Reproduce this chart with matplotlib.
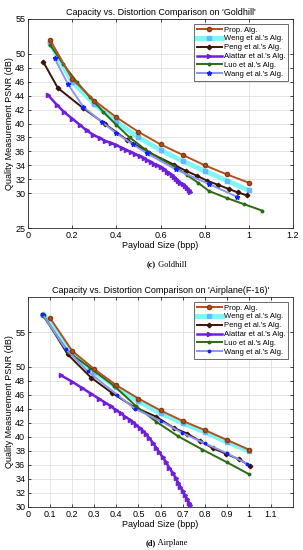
import matplotlib
matplotlib.use("Agg")
import matplotlib.pyplot as plt

plt.rcParams['font.family'] = ['Liberation Sans', 'DejaVu Sans']

# ---------------- Goldhill ----------------
g_prop_x = [0.10, 0.20, 0.30, 0.40, 0.50, 0.60, 0.70, 0.80, 0.90, 1.00]
g_prop_y = [52.0, 46.4, 43.3, 40.9, 38.8, 37.0, 35.5, 34.0, 32.7, 31.5]

g_weng_x = [0.10, 0.20, 0.30, 0.40, 0.50, 0.60, 0.70, 0.80, 0.90, 1.00]
g_weng_y = [51.5, 46.0, 42.8, 40.2, 38.0, 36.2, 34.6, 33.2, 31.8, 30.4]

g_peng_x = [0.07, 0.135, 0.25, 0.35, 0.45, 0.55, 0.66, 0.715, 0.765, 0.81, 0.86, 0.91, 0.95, 0.99]
g_peng_y = [48.8, 45.1, 42.2, 39.9, 37.6, 35.8, 34.1, 33.2, 32.5, 31.8, 31.2, 30.6, 30.1, 29.7]

g_alat_x = [0.09, 0.13, 0.165, 0.20, 0.235, 0.265, 0.295, 0.325, 0.35, 0.375, 0.40, 0.425,
            0.445, 0.465, 0.485, 0.505, 0.525, 0.54, 0.555, 0.57, 0.585, 0.60, 0.615, 0.63,
            0.64, 0.65, 0.66, 0.67, 0.68, 0.69, 0.70, 0.71, 0.72, 0.73, 0.735]
g_alat_y = [44.1, 42.7, 41.6, 40.7, 39.8, 39.0, 38.4, 37.9, 37.5, 37.2, 36.9, 36.5,
            36.2, 35.9, 35.6, 35.3, 35.0, 34.7, 34.5, 34.2, 34.0, 33.7, 33.4, 33.1,
            32.9, 32.6, 32.3, 32.1, 31.8, 31.5, 31.3, 31.0, 30.7, 30.4, 30.2]

g_luo_x = [0.10, 0.16, 0.22, 0.28, 0.34, 0.40, 0.46, 0.53, 0.60, 0.66, 0.72, 0.77, 0.82, 0.90, 0.98, 1.06]
g_luo_y = [51.3, 48.5, 46.0, 43.8, 41.7, 39.8, 38.0, 36.3, 34.9, 33.9, 32.6, 31.5, 30.3, 29.3, 28.4, 27.5]

g_wang_x = [0.12, 0.18, 0.25, 0.335, 0.40, 0.475, 0.54, 0.67, 0.82, 0.945]
g_wang_y = [49.4, 45.7, 42.4, 40.2, 38.6, 37.0, 35.7, 33.4, 31.3, 29.5]

# ---------------- Airplane ----------------
a_prop_x = [0.10, 0.20, 0.30, 0.40, 0.50, 0.60, 0.70, 0.80, 0.90, 1.00]
a_prop_y = [57.0, 52.3, 49.7, 47.4, 45.5, 43.8, 42.3, 41.0, 39.6, 38.2]

a_weng_x = [0.07, 0.20, 0.30, 0.40, 0.50, 0.60, 0.70, 0.80, 0.90, 1.00]
a_weng_y = [57.5, 52.0, 49.3, 47.1, 45.1, 43.4, 42.0, 40.7, 39.3, 38.0]

a_peng_x = [0.068, 0.18, 0.285, 0.38, 0.48, 0.58, 0.66, 0.72, 0.78, 0.837, 0.897, 0.956, 1.005]
a_peng_y = [57.5, 51.8, 48.5, 46.3, 44.3, 42.9, 41.3, 40.5, 39.4, 38.4, 37.6, 36.8, 35.9]

a_alat_x = [0.15, 0.20, 0.245, 0.285, 0.32, 0.35, 0.375, 0.40, 0.42, 0.44, 0.46, 0.475,
            0.49, 0.505, 0.52, 0.535, 0.55, 0.565, 0.58, 0.595, 0.61, 0.625, 0.64, 0.655,
            0.67, 0.68, 0.69, 0.70, 0.71, 0.72, 0.73, 0.735]
a_alat_y = [48.8, 47.9, 47.0, 46.2, 45.5, 44.9, 44.4, 43.8, 43.4, 42.9, 42.5, 42.1,
            41.7, 41.3, 40.9, 40.4, 39.8, 39.2, 38.5, 37.8, 37.1, 36.4, 35.6, 34.9,
            34.1, 33.5, 32.9, 32.3, 31.7, 31.2, 30.6, 30.3]

a_luo_x = [0.065, 0.18, 0.28, 0.39, 0.49, 0.58, 0.68, 0.79, 0.90, 1.00]
a_luo_y = [57.5, 52.2, 49.9, 47.3, 44.4, 42.2, 40.1, 38.2, 36.4, 34.7]

a_wang_x = [0.065, 0.17, 0.27, 0.405, 0.486, 0.60, 0.697, 0.80, 0.90, 0.99]
a_wang_y = [57.6, 52.6, 49.4, 46.0, 44.0, 42.3, 40.6, 39.1, 37.7, 36.2]

labels = ['Prop. Alg.', "Weng et al.'s Alg.", "Peng et al.'s Alg.",
          "Alattar et al.'s Alg.", "Luo et al.'s Alg.", "Wang et al.'s Alg."]

yticks = [30, 32, 34, 36, 38, 40, 42, 44, 46, 48, 50, 55]


def dibujar(ax, datos, wang_marker, titulo, xticks, ylim, yt):
    (px, py), (wx, wy), (pgx, pgy), (ax_, ay_), (lx, ly), (wgx, wgy) = datos
    ax.plot(px, py, '-o', color='#b5501e', mfc='#b5501e', mec='#8a3a10', lw=1.4, ms=3, label=labels[0], zorder=6)
    ax.plot(wx, wy, '-s', color='#7ff5f5', mfc='#66b8ff', mec='#66b8ff', lw=3.5, ms=2.5, label=labels[1], zorder=3)
    ax.plot(pgx, pgy, '-D', color='#3b1408', mfc='#3b1408', mec='#3b1408', lw=1.4, ms=2.3, label=labels[2], zorder=5)
    ax.plot(ax_, ay_, '->', color='#6f1fd8', mfc='#6f1fd8', mec='#6f1fd8', lw=1.8, ms=3, label=labels[3], zorder=4)
    ax.plot(lx, ly, '-o', color='#2c6b12', mfc='#2c6b12', mec='#2c6b12', lw=1.4, ms=1.8, label=labels[4], zorder=5)
    ax.plot(wgx, wgy, '-', marker=wang_marker, color='#8a95f0', mfc='#1020ff', mec='#1020ff', lw=1.4, ms=3.5, label=labels[5], zorder=5)
    ax.set_xlim(0, 1.2)
    ax.set_ylim(*ylim)
    ax.set_xticks(xticks)
    ax.set_xticklabels([('%g' % t) for t in xticks])
    ax.set_yticks(yt)
    ax.grid(True, color='#e0e0e0', lw=0.6)
    ax.set_axisbelow(True)
    ax.tick_params(direction='in', top=True, right=True, labelsize=6.5, length=2.5, width=0.5, pad=2)
    for s in ax.spines.values():
        s.set_linewidth(0.6)
        s.set_color('#262626')
    ax.set_title(titulo, fontsize=6.5, pad=3)
    ax.set_xlabel('Payload Size (bpp)', fontsize=6.5, labelpad=1)
    ax.set_ylabel('Quality Measurement PSNR (dB)', fontsize=6.5, labelpad=1)
    leg = ax.legend(loc='upper right', fontsize=5.5, frameon=True, fancybox=False,
                    edgecolor='#262626', borderpad=0.35, labelspacing=0.2,
                    handlelength=3.3, handletextpad=0.3, borderaxespad=0.6)
    leg.get_frame().set_linewidth(0.6)


fig = plt.figure(figsize=(3.03, 5.5), dpi=100)

ax1 = fig.add_axes([28 / 303, 1 - 228 / 550, 265 / 303, 209 / 550])
dibujar(ax1,
        [(g_prop_x, g_prop_y), (g_weng_x, g_weng_y), (g_peng_x, g_peng_y),
         (g_alat_x, g_alat_y), (g_luo_x, g_luo_y), (g_wang_x, g_wang_y)],
        '*', "Capacity vs. Distortion Comparison on 'Goldhill'",
        [0, 0.2, 0.4, 0.6, 0.8, 1.0, 1.2], (25, 55), [25] + yticks)

ax2 = fig.add_axes([28 / 303, 1 - 507 / 550, 265 / 303, 210 / 550])
dibujar(ax2,
        [(a_prop_x, a_prop_y), (a_weng_x, a_weng_y), (a_peng_x, a_peng_y),
         (a_alat_x, a_alat_y), (a_luo_x, a_luo_y), (a_wang_x, a_wang_y)],
        '.', "Capacity vs. Distortion Comparison on 'Airplane(F-16)'",
        [0, 0.1, 0.2, 0.3, 0.4, 0.5, 0.6, 0.7, 0.8, 0.9, 1.0, 1.1], (30, 60), yticks)

serif = ['Liberation Serif', 'DejaVu Serif']
fig.text(0.515, 1 - 265 / 550, '(c)', fontsize=6, ha='right', va='center', weight='bold', family=serif)
fig.text(0.515, 1 - 265 / 550, ' Goldhill', fontsize=6, ha='left', va='center', family=serif)
fig.text(0.515, 1 - 543 / 550, '(d)', fontsize=6, ha='right', va='center', weight='bold', family=serif)
fig.text(0.515, 1 - 543 / 550, ' Airplane', fontsize=6, ha='left', va='center', family=serif)

fig.savefig('out.png', dpi=100)
